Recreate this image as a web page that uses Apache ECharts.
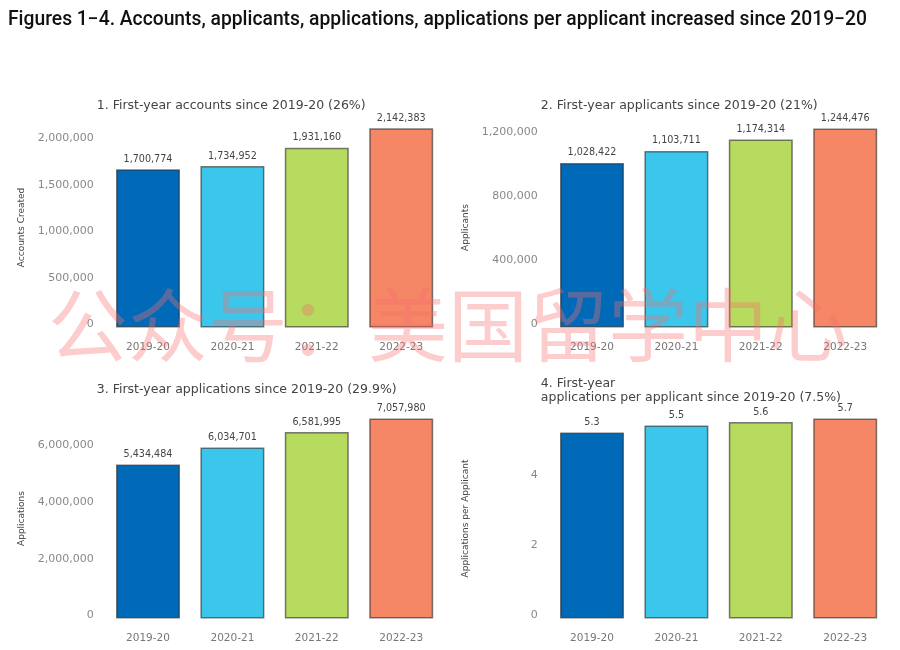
<!DOCTYPE html>
<html>
<head>
<meta charset="utf-8">
<title>Figures 1-4</title>
<style>
html,body{margin:0;padding:0;background:#fff;}
#main{width:900px;height:650px;}
</style>
<script src="https://cdn.jsdelivr.net/npm/echarts@6/dist/echarts.min.js"></script>
</head>
<body>
<div id="main"></div>
<script>
var years = ['2019-20', '2020-21', '2021-22', '2022-23'];
var barColors = ['#006ab9', '#3bc6ec', '#b6db5f', '#f58666'];

var accounts = [1700774, 1734952, 1931160, 2142383];
var applicants = [1028422, 1103711, 1174314, 1244476];
var applications = [5434484, 6034701, 6581995, 7057980];
var perApplicant = [5.3, 5.5, 5.6, 5.7];

var panelTitles = [
    '1. First-year accounts since 2019-20 (26%)',
    '2. First-year applicants since 2019-20 (21%)',
    '3. First-year applications since 2019-20 (29.9%)',
    '4. First-year\napplications per applicant since 2019-20 (7.5%)'
];
var yNames = ['Accounts Created', 'Applicants', 'Applications', 'Applications per Applicant'];
var yMax = [2150000, 1250000, 7060000, 5.7];
var yStep = [500000, 400000, 2000000, 2];
var panelData = [accounts, applicants, applications, perApplicant];

var lefts = [105.8, 549.8, 105.8, 549.8];
var tops = [127.5, 127.5, 418.5, 418.5];
var titleTops = [94, 94, 378, 372];
var font = 'DejaVu Sans';

function fmt(v){
    return Number(v).toLocaleString('en-US');
}

var grids = [], xAxes = [], yAxes = [], seriesList = [];
var titles = [{
    text: 'Figures 1\u22124. Accounts, applicants, applications, applications per applicant increased since 2019\u221220',
    left: 3,
    top: 6,
    textStyle: {fontFamily: 'Roboto', fontSize: 19.3, fontWeight: 500, color: '#111'}
}];

for (var i = 0; i < 4; i++) {
    grids.push({left: lefts[i], top: tops[i], width: 337.6, height: 200});
    titles.push({
        text: panelTitles[i],
        left: lefts[i] - 14,
        top: titleTops[i],
        textStyle: {fontFamily: font, fontSize: 12.5, fontWeight: 'normal', color: '#444', lineHeight: 14}
    });
    xAxes.push({
        type: 'category',
        gridIndex: i,
        data: years,
        axisLine: {show: false},
        axisTick: {show: false},
        axisLabel: {fontFamily: font, fontSize: 10.5, color: '#777', margin: 14}
    });
    yAxes.push({
        type: 'value',
        gridIndex: i,
        min: 0,
        max: yMax[i],
        interval: yStep[i],
        name: yNames[i],
        nameLocation: 'middle',
        nameGap: 80,
        nameTextStyle: {fontFamily: font, fontSize: 9, color: '#444'},
        axisLine: {show: false},
        axisTick: {show: false},
        splitLine: {show: false},
        axisLabel: {
            fontFamily: font,
            fontSize: 11,
            color: '#888',
            margin: 12,
            verticalAlign: 'bottom',
            lineHeight: 6,   // lifts the labels a few px above the bar scale, as in the picture
            showMaxLabel: false,
            formatter: fmt
        }
    });
    seriesList.push({
        type: 'bar',
        xAxisIndex: i,
        yAxisIndex: i,
        data: panelData[i],
        barWidth: 64,
        itemStyle: {
            color: function(p){ return barColors[p.dataIndex]; },
            borderColor: 'rgba(40,40,40,0.6)',
            borderWidth: 1.5
        },
        label: {
            show: true,
            position: 'top',
            distance: 5,
            fontFamily: font,
            fontSize: 9.6,
            color: '#444',
            formatter: function(p){ return fmt(p.value); }
        }
    });
}

var myChart = echarts.init(document.getElementById('main'), null, {renderer: 'canvas'});
myChart.setOption({
    animation: false,
    backgroundColor: '#fff',
    title: titles,
    grid: grids,
    xAxis: xAxes,
    yAxis: yAxes,
    series: seriesList,
    graphic: [{
        type: 'text',
        left: 48,
        top: 285,
        z: 100,
        silent: true,
        style: {
            text: '公众号：美国留学中心',
            font: '80px "Noto Sans CJK SC"',
            fill: 'rgba(250,110,110,0.35)'
        }
    }]
});
</script>
</body>
</html>
